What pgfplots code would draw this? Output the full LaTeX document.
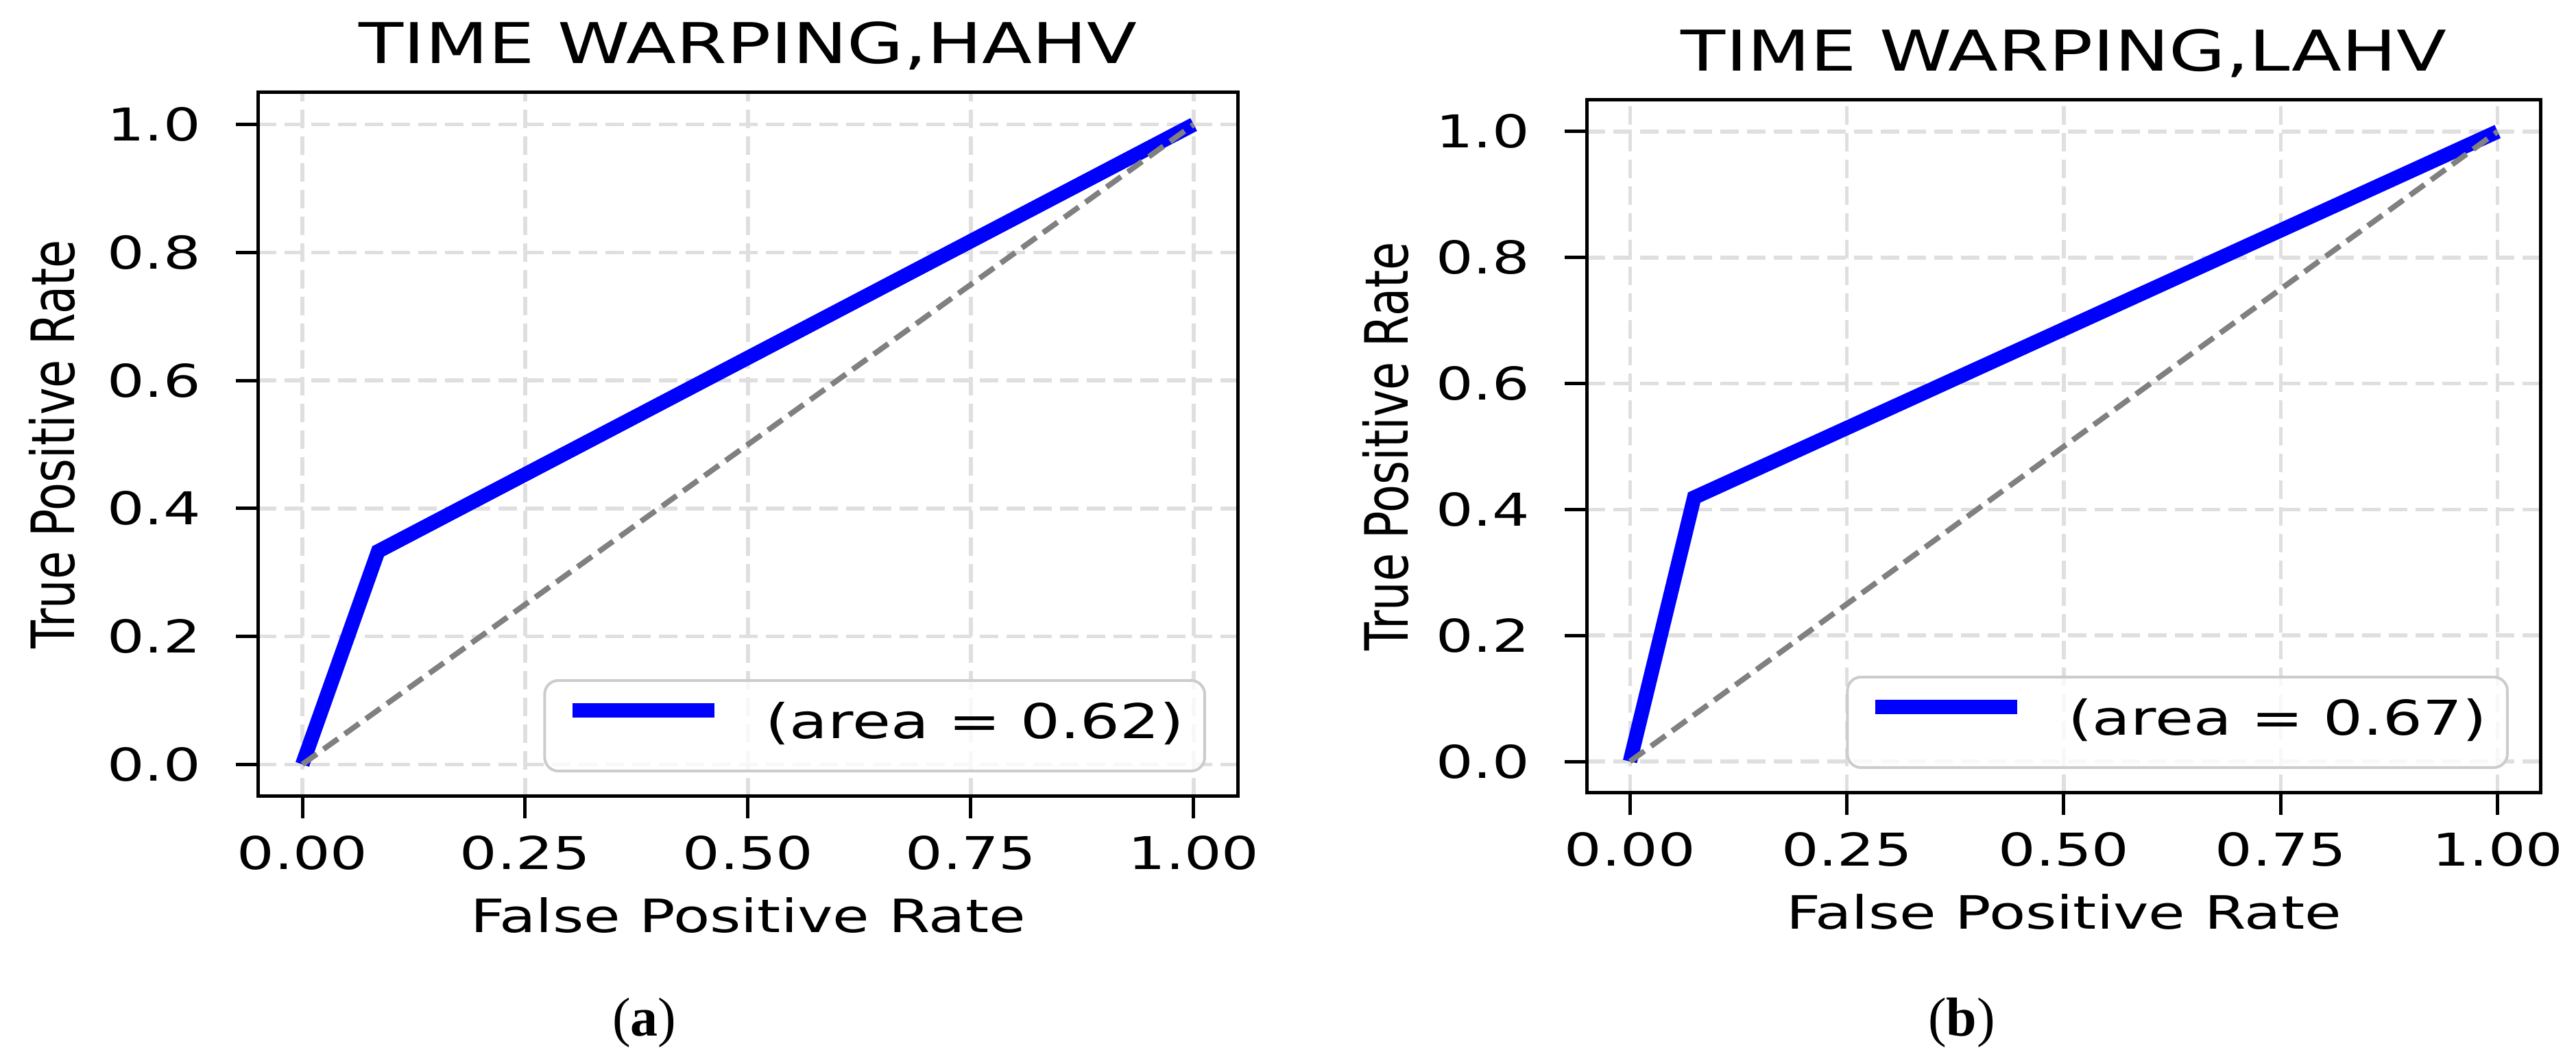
\documentclass[border=0pt]{standalone}
\usepackage{fontspec}
\setmainfont{DejaVu Sans}[FakeStretch=1.3]
\newfontfamily\plainsans{DejaVu Sans}
\newfontfamily\capserif{Liberation Serif}
\usepackage{graphicx}
\usepackage{pgfplots}
\pgfplotsset{compat=1.18}

\pgfplotsset{
  rocaxis/.style={
    scale only axis,
    anchor=south west,
    xmin=-0.05, xmax=1.05, ymin=-0.05, ymax=1.05,
    xtick={0,0.25,0.5,0.75,1},
    ytick={0,0.2,0.4,0.6,0.8,1},
    xticklabel style={yshift=1pt, /pgf/number format/fixed, /pgf/number format/fixed zerofill, /pgf/number format/precision=2},
    yticklabel style={xshift=-1.6pt, /pgf/number format/fixed, /pgf/number format/fixed zerofill, /pgf/number format/precision=1},
    /pgf/number format/assume math mode=true,
    tick align=outside,
    major tick length=3.2pt,
    xtick pos=bottom, ytick pos=left,
    tick style={black, line width=0.5pt},
    axis line style={black, line width=0.5pt},
    grid=major,
    major grid style={gray!25, line width=0.55pt, dash pattern=on 2.7pt off 1.2pt},
    tick label style={font=\fontsize{6.6}{7.9}\selectfont},
    title style={font=\fontsize{8.2}{9.8}\selectfont, at={(0.5,1)}, anchor=base, yshift=-1.8pt},
    xlabel style={font=\fontsize{6.7}{8}\selectfont, at={(0.5,0)}, anchor=base, yshift=-19.9pt},
    ylabel style={font=\plainsans\fontsize{6.7}{8}\selectfont, at={(-0.187,0.5)}, anchor=base},
    xlabel={False Positive Rate},
    ylabel={\scalebox{1}[1.3]{True Positive Rate}},
    legend style={at={(1,0)}, anchor=south east, xshift=-4.7pt, yshift=3.5pt,
      draw=gray!40, line width=0.4pt, rounded corners=2pt,
      fill=white, fill opacity=0.8, text opacity=1,
      inner xsep=3pt, inner ysep=3.2pt,
      font=\fontsize{7}{8.4}\selectfont,
      nodes={inner sep=0pt},
      /tikz/every odd column/.append style={column sep=6.4pt}},
    legend image code/.code={\draw[#1] (0pt,2.2pt) -- (20.7pt,2.2pt);},
  },
  rocline/.style={color=blue, line width=2.1pt},
  chance/.style={color=gray, line width=0.8pt, dash pattern=on 2.6pt off 1.2pt, forget plot},
}

\begin{document}
\begin{tikzpicture}
  \path[use as bounding box] (0,0) rectangle (375.7pt,155.1pt);

  % (a) HAHV
  \begin{axis}[rocaxis,
      at={(37.6pt,38.9pt)}, width=143pt, height=102.7pt,
      title={TIME WARPING,HAHV}]
    \addplot[rocline] coordinates {(0,0) (0.085,0.333) (1,1)};
    \addlegendentry{(area = 0.62)}
    \addplot[chance] coordinates {(0,0) (1,1)};
  \end{axis}

  % (b) LAHV
  \begin{axis}[rocaxis,
      at={(231.4pt,39.4pt)}, width=139.2pt, height=101.1pt,
      title={TIME WARPING,LAHV}]
    \addplot[rocline] coordinates {(0,0) (0.074,0.419) (1,1)};
    \addlegendentry{(area = 0.67)}
    \addplot[chance] coordinates {(0,0) (1,1)};
  \end{axis}

  \node[font=\capserif\fontsize{8}{9.6}\selectfont] at (94.0pt,5.9pt) {(\textbf{a})};
  \node[font=\capserif\fontsize{8}{9.6}\selectfont] at (286.1pt,5.9pt) {(\textbf{b})};
\end{tikzpicture}
\end{document}
